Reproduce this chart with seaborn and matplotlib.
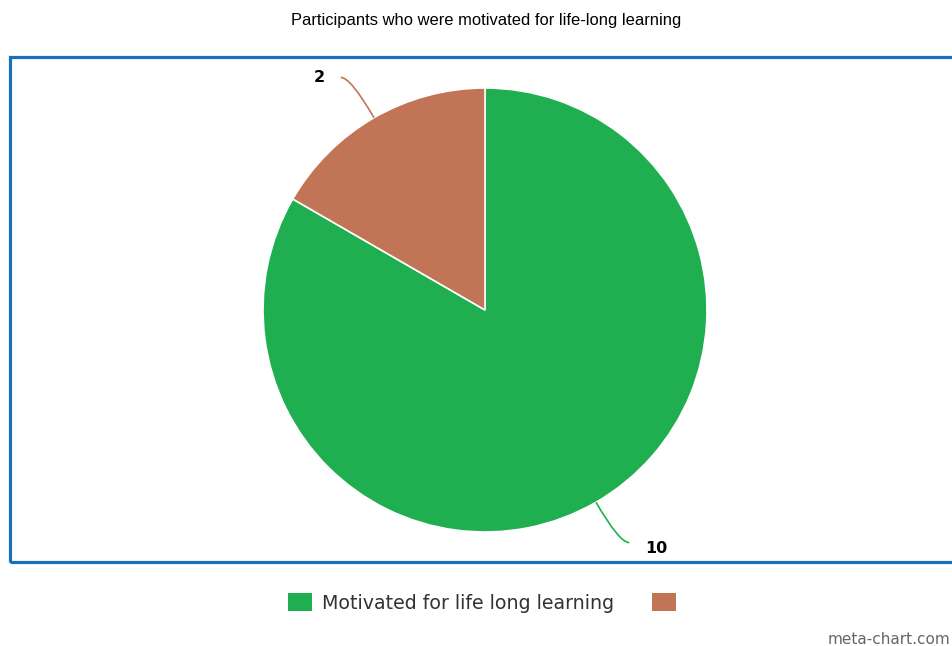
"""
Pie chart: participants motivated for life-long learning.
"""

import numpy as np
import matplotlib
matplotlib.use("Agg")
import matplotlib.pyplot as plt
import seaborn as sns
from matplotlib.patches import Rectangle, PathPatch, Patch
from matplotlib.path import Path

sns.set_theme(style="white")
plt.rcParams['font.family'] = ['DejaVu Sans']

# Data
labels = ["Motivated for life long learning", ""]
values = [10, 2]
colors = ["#20AF50", "#C17556"]
title = "Participants who were motivated for life-long learning"

W, H = 952, 646
fig = plt.figure(figsize=(W / 100, H / 100), dpi=100)
ax = fig.add_axes([0, 0, 1, 1])

# work in pixel coordinates (y up)
cx, cy, r = 485, H - 310, 222
wedges, _ = ax.pie(values, colors=colors, startangle=90, counterclock=False,
                   center=(cx, cy), radius=r,
                   wedgeprops=dict(edgecolor="white", linewidth=1.2))
ax.set_xlim(0, W)
ax.set_ylim(0, H)
ax.set_aspect("equal")
ax.axis("off")

# plot frame
ax.add_patch(Rectangle((10, H - 562), 950, 505, fill=False,
                       edgecolor="#1a6fba", linewidth=2.3, clip_on=False))

# curved connectors + value labels
for w, v, c in zip(wedges, values, colors):
    mid = np.deg2rad((w.theta1 + w.theta2) / 2)
    d = np.array([np.cos(mid), np.sin(mid)])
    p0 = np.array([cx, cy]) + r * d
    p1 = np.array([cx, cy]) + 1.21 * r * d
    side = 1 if d[0] >= 0 else -1
    p2 = p1 + np.array([10 * side, 0])
    path = Path([p0, p1, p2], [Path.MOVETO, Path.CURVE3, Path.CURVE3])
    ax.add_patch(PathPatch(path, facecolor="none", edgecolor=c, linewidth=1.2))
    dy = -6 if side > 0 else 0
    ax.text(p2[0] + 16 * side, p2[1] + dy, str(v), ha="left" if side > 0 else "right",
            va="center", fontsize=11.5, fontweight="bold", color="black")

fig.text(486 / W, 1 - 20 / H, title, ha="center", va="center",
         fontsize=11.9, color="black", family="Liberation Sans")

handles = [Patch(facecolor=c, edgecolor="none") for c in colors]
fig.legend(handles, labels, loc="center", bbox_to_anchor=(487 / W, 1 - 603 / H),
           ncol=2, frameon=False, fontsize=13.7, labelcolor="#333333",
           handlelength=1.27, handleheight=1.05, handletextpad=0.55,
           columnspacing=1.95, borderpad=0)

fig.text(950 / W, 1 - 639 / H, "meta-chart.com", ha="right", va="center",
         fontsize=11, color="#666666")

fig.savefig("out.png", dpi=100)
